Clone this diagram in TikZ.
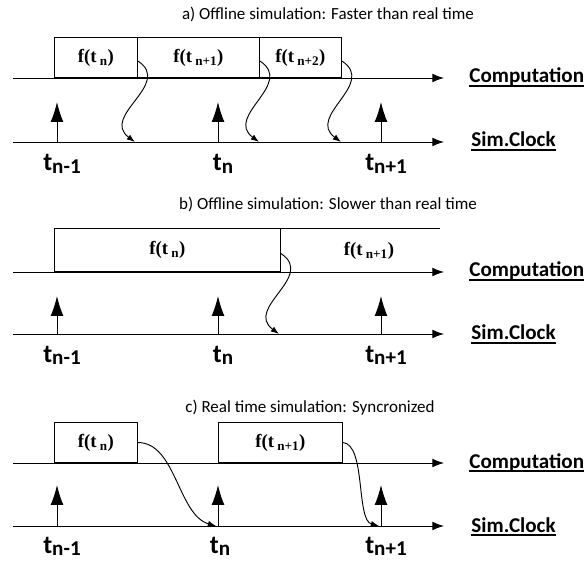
\documentclass[tikz,border=0pt]{standalone}
\usepackage{fontspec}
\setmainfont{Carlito}
\newfontfamily\fserif{Liberation Serif}
\usetikzlibrary{arrows.meta}
\newcommand{\ulbf}[1]{\setbox0\hbox{#1}\rlap{\rule[-3.5pt]{\wd0}{1.6pt}}\box0}
\newcommand{\tsb}[1]{t\raisebox{-2pt}{\fontsize{18}{20}\selectfont #1}}
\tikzset{
  axis/.style={-{Latex[length=10pt,width=7.5pt]}},
  tick/.style={-{Latex[length=17pt,width=11pt]}},
  flow/.style={-{Latex[length=7pt,width=5pt]}},
  fbox/.style={draw, anchor=south west, inner sep=0pt, text height=0.8em, text depth=0pt,
    font=\fserif\bfseries\fontsize{16}{18}\selectfont},
  flabel/.style={inner sep=0pt, text height=0.8em, text depth=0pt,
    font=\fserif\bfseries\fontsize{16}{18}\selectfont},
  title/.style={anchor=base, inner sep=0pt, font=\fontsize{14.5}{17}\selectfont},
  axlabel/.style={anchor=base west, inner sep=0pt, font=\bfseries\fontsize{18}{20}\selectfont},
  tlabel/.style={anchor=base, inner sep=0pt, font=\bfseries\fontsize{22}{25}\selectfont},
}
\begin{document}
\begin{tikzpicture}[x=0.03cm,y=-0.03cm,line width=0.8pt]
  \useasboundingbox (0,0) rectangle (585,567);
  % a) faster than real time
  \node[title] (ta) at (328,20) {a) Offline simulation: Faster than real time};
  \node[fbox, minimum width=2.49cm, minimum height=1.2cm] (fa1) at (54,78) {f(t\,\textsubscript{n})};
  \node[fbox, minimum width=3.66cm, minimum height=1.2cm] (fa2) at (137,78) {f(t\,\textsubscript{n+1})};
  \node[fbox, minimum width=2.46cm, minimum height=1.2cm] (fa3) at (259,78) {f(t\,\textsubscript{n+2})};
  \coordinate (aC0) at (13,78);
  \coordinate (aC1) at (444,78);
  \coordinate (aS0) at (13,142);
  \coordinate (aS1) at (444,142);
  \coordinate (a1) at (57,142);
  \coordinate (a1t) at (57,102);
  \coordinate (a2) at (218,142);
  \coordinate (a2t) at (218,102);
  \coordinate (a3) at (381,142);
  \coordinate (a3t) at (381,102);
  \coordinate (aE1) at (135,142);
  \coordinate (aE2) at (259,142);
  \coordinate (aE3) at (341,142);
  \node[axlabel] (aComp) at (469,83) {\ulbf{Computation}};
  \node[axlabel] (aClk) at (471,147) {\ulbf{Sim.Clock}};
  \node[tlabel] (at1) at (62,171) {\tsb{n-1}};
  \node[tlabel] (at2) at (223,171) {\tsb{n}};
  \node[tlabel] (at3) at (386,171) {\tsb{n+1}};
  \draw[axis] (aC0) -- (aC1);
  \draw[axis] (aS0) -- (aS1);
  \draw[tick] (a1) -- (a1t);
  \draw[tick] (a2) -- (a2t);
  \draw[tick] (a3) -- (a3t);
  \draw[flow] ([yshift=-3pt]fa1.east) .. controls +(35,23) and +(-35,-26) .. (aE1);
  \draw[flow] ([yshift=-3pt]fa2.east) .. controls +(35,23) and +(-35,-26) .. (aE2);
  \draw[flow] ([yshift=-3pt]fa3.east) .. controls +(35,23) and +(-35,-26) .. (aE3);

  % b) slower than real time
  \node[title] (tb) at (328,210) {b) Offline simulation: Slower than real time};
  \node[fbox, minimum width=6.78cm, minimum height=1.29cm] (fb1) at (54,272) {f(t\,\textsubscript{n})};
  \coordinate (bB2) at (440,272);
  \draw (fb1.north east) -- (fb1.north east -| bB2);
  \node[flabel] (fb2) at (369,250.5) {f(t\,\textsubscript{n+1})};
  \coordinate (bC0) at (13,272);
  \coordinate (bC1) at (444,272);
  \coordinate (bS0) at (13,334);
  \coordinate (bS1) at (444,334);
  \coordinate (b1) at (57,334);
  \coordinate (b1t) at (57,296);
  \coordinate (b2) at (218,334);
  \coordinate (b2t) at (218,296);
  \coordinate (b3) at (381,334);
  \coordinate (b3t) at (381,296);
  \coordinate (bE1) at (279,334);
  \node[axlabel] (bComp) at (469,277) {\ulbf{Computation}};
  \node[axlabel] (bClk) at (471,340) {\ulbf{Sim.Clock}};
  \node[tlabel] (bt1) at (62,362) {\tsb{n-1}};
  \node[tlabel] (bt2) at (223,362) {\tsb{n}};
  \node[tlabel] (bt3) at (386,362) {\tsb{n+1}};
  \draw[axis] (bC0) -- (bC1);
  \draw[axis] (bS0) -- (bS1);
  \draw[tick] (b1) -- (b1t);
  \draw[tick] (b2) -- (b2t);
  \draw[tick] (b3) -- (b3t);
  \draw[flow] ([yshift=-3pt]fb1.east) .. controls +(35,23) and +(-35,-26) .. (bE1);

  % c) real time, synchronized
  \node[title] (tc) at (310,412) {c) Real time simulation: Syncronized};
  \node[fbox, minimum width=2.49cm, minimum height=1.2cm] (fc1) at (54,463) {f(t\,\textsubscript{n})};
  \node[fbox, minimum width=3.72cm, minimum height=1.2cm] (fc2) at (218,463) {f(t\,\textsubscript{n+1})};
  \coordinate (cC0) at (13,463);
  \coordinate (cC1) at (444,463);
  \coordinate (cS0) at (13,526);
  \coordinate (cS1) at (444,526);
  \coordinate (c1) at (57,526);
  \coordinate (c1t) at (57,485);
  \coordinate (c2) at (218,526);
  \coordinate (c2t) at (218,485);
  \coordinate (c3) at (381,526);
  \coordinate (c3t) at (381,485);
  \coordinate (cE1) at (216,526);
  \coordinate (cE2) at (379,526);
  \node[axlabel] (cComp) at (469,468) {\ulbf{Computation}};
  \node[axlabel] (cClk) at (471,532) {\ulbf{Sim.Clock}};
  \node[tlabel] (ct1) at (62,553) {\tsb{n-1}};
  \node[tlabel] (ct2) at (220,553) {\tsb{n}};
  \node[tlabel] (ct3) at (386,553) {\tsb{n+1}};
  \draw[axis] (cC0) -- (cC1);
  \draw[axis] (cS0) -- (cS1);
  \draw[tick] (c1) -- (c1t);
  \draw[tick] (c2) -- (c2t);
  \draw[tick] (c3) -- (c3t);
  \draw[flow] (fc1.east) .. controls +(38,0) and +(-38,-11) .. (cE1);
  \draw[flow] (fc2.east) .. controls +(23,2) and +(-23,-6) .. (cE2);
\end{tikzpicture}
\end{document}
